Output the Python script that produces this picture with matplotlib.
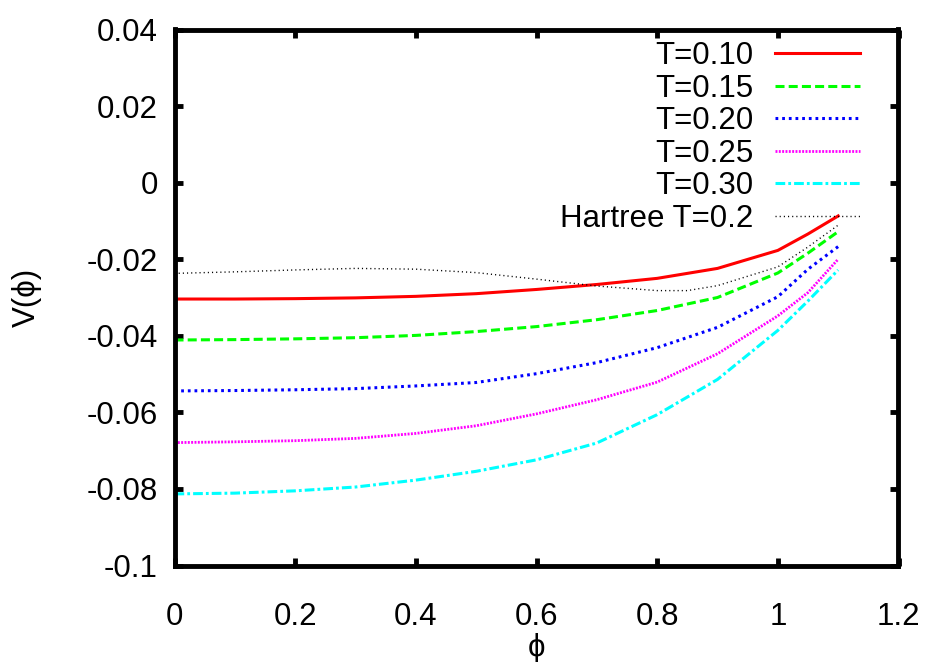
#!/usr/bin/env python3
"""Effective potential V(phi) at several temperatures, with the Hartree curve."""
import matplotlib
matplotlib.use("Agg")
import matplotlib.pyplot as plt
from matplotlib import ticker

plt.rcParams['font.family'] = ['Liberation Sans', 'DejaVu Sans']
plt.rcParams['lines.scale_dashes'] = False

# values
phi = [0.0, 0.1, 0.2, 0.3, 0.4, 0.5, 0.6, 0.7, 0.8, 0.9, 1.0, 1.05, 1.1]
v_t010 = [-0.0304, -0.0304, -0.0303, -0.0301, -0.0297, -0.0290, -0.0279,
          -0.0266, -0.0250, -0.0224, -0.0177, -0.0134, -0.0087]
v_t015 = [-0.0411, -0.0410, -0.0408, -0.0405, -0.0399, -0.0389, -0.0376,
          -0.0358, -0.0334, -0.0300, -0.0236, -0.0184, -0.0128]
v_t020 = [-0.0544, -0.0543, -0.0541, -0.0538, -0.0531, -0.0522, -0.0499,
          -0.0470, -0.0431, -0.0378, -0.0298, -0.0226, -0.0167]
v_t025 = [-0.0679, -0.0677, -0.0674, -0.0668, -0.0655, -0.0635, -0.0604,
          -0.0567, -0.0521, -0.0447, -0.0348, -0.0287, -0.0200]
v_t030 = [-0.0813, -0.0811, -0.0805, -0.0795, -0.0777, -0.0754, -0.0724,
          -0.0680, -0.0606, -0.0514, -0.0386, -0.0309, -0.0228]

phi_h = [0.0, 0.1, 0.2, 0.3, 0.4, 0.5, 0.6, 0.7, 0.8, 0.85, 0.9, 1.0, 1.05, 1.1]
v_hartree = [-0.0237, -0.0233, -0.0228, -0.0224, -0.0226, -0.0235, -0.0252,
             -0.0270, -0.0282, -0.0282, -0.0269, -0.0220, -0.0168, -0.0111]

labels = ["T=0.10", "T=0.15", "T=0.20", "T=0.25", "T=0.30", "Hartree T=0.2"]

fig = plt.figure(figsize=(9.28, 6.62), dpi=100)
ax = fig.add_axes([174.5 / 928, (662 - 565.5) / 662, 724 / 928, 536 / 662])

ax.plot(phi, v_t010, color='#ff0000', lw=2.2, label=labels[0])
ax.plot(phi, v_t015, color='#00ff00', lw=2.2, dashes=(6.5, 3), label=labels[1])
ax.plot(phi, v_t020, color='#0000ff', lw=2.2, dashes=(2, 2.8), label=labels[2])
ax.plot(phi, v_t025, color='#ff00ff', lw=2.0, dashes=(1.4, 1.0), label=labels[3])
ax.plot(phi, v_t030, color='#00ffff', lw=2.2, dashes=(7, 2.2, 2, 2.2), label=labels[4])
ax.plot(phi_h, v_hartree, color='black', lw=1.0, dashes=(0.8, 2.2), label=labels[5])

ax.set_xlim(0, 1.2)
ax.set_ylim(-0.1, 0.04)
ax.xaxis.set_major_locator(ticker.MultipleLocator(0.2))
ax.yaxis.set_major_locator(ticker.MultipleLocator(0.02))
fmt = ticker.FuncFormatter(lambda v, p: '%g' % (round(v, 6) + 0.0))
ax.xaxis.set_major_formatter(fmt)
ax.yaxis.set_major_formatter(fmt)
ax.tick_params(direction='in', length=6, width=3.5, labelsize=22.5,
               top=True, right=True)
ax.tick_params(axis='x', pad=26)
ax.tick_params(axis='y', pad=12)
for s in ax.spines.values():
    s.set_linewidth(3.5)

ax.set_xlabel("\u03d5", fontsize=22.5, labelpad=1)
ax.set_ylabel("V(\u03d5)", fontsize=22.5, labelpad=32)

ax.legend(loc='upper right', bbox_to_anchor=(0.947, 0.978), frameon=False,
          markerfirst=False, fontsize=22.5, handlelength=2.72,
          handletextpad=0.7, labelspacing=0.08, borderpad=0, borderaxespad=0)

fig.savefig("out.png", dpi=100)
